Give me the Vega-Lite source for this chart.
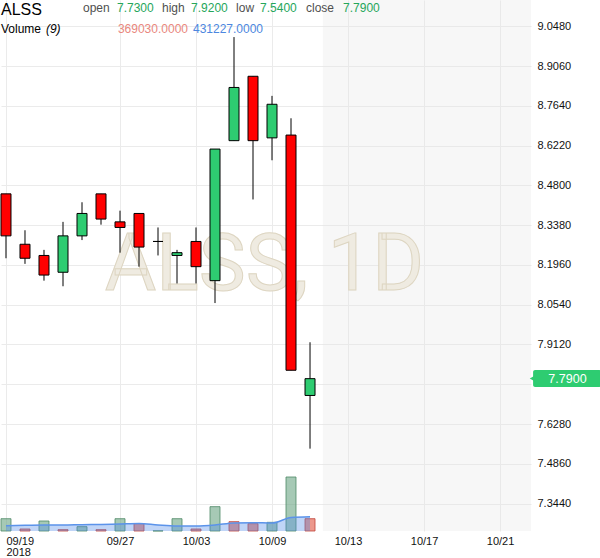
{
  "$schema": "https://vega.github.io/schema/vega-lite/v6.json",
  "width": 530,
  "height": 531,
  "padding": 0,
  "config": {
    "view": {"stroke": null},
    "font": "Liberation Sans"
  },
  "datasets": {
    "ohlc": [
      {"i": 0, "date": "2018-09-19", "open": 8.45, "high": 8.45, "low": 8.22, "close": 8.30, "volume": 369000, "vol_ma": 160000, "vdir": "up"},
      {"i": 1, "date": "2018-09-20", "open": 8.27, "high": 8.32, "low": 8.20, "close": 8.22, "volume": 60000, "vol_ma": 170000, "vdir": "down"},
      {"i": 2, "date": "2018-09-21", "open": 8.23, "high": 8.25, "low": 8.14, "close": 8.16, "volume": 300000, "vol_ma": 180000, "vdir": "up"},
      {"i": 3, "date": "2018-09-24", "open": 8.17, "high": 8.35, "low": 8.12, "close": 8.30, "volume": 40000, "vol_ma": 180000, "vdir": "down"},
      {"i": 4, "date": "2018-09-25", "open": 8.30, "high": 8.42, "low": 8.285, "close": 8.38, "volume": 130000, "vol_ma": 190000, "vdir": "up"},
      {"i": 5, "date": "2018-09-26", "open": 8.45, "high": 8.45, "low": 8.34, "close": 8.36, "volume": 40000, "vol_ma": 195000, "vdir": "down"},
      {"i": 6, "date": "2018-09-27", "open": 8.35, "high": 8.39, "low": 8.24, "close": 8.33, "volume": 369000, "vol_ma": 210000, "vdir": "up"},
      {"i": 7, "date": "2018-09-28", "open": 8.38, "high": 8.38, "low": 8.19, "close": 8.26, "volume": 220000, "vol_ma": 225000, "vdir": "down"},
      {"i": 8, "date": "2018-10-01", "open": 8.28, "high": 8.33, "low": 8.23, "close": 8.28, "volume": 5000, "vol_ma": 180000, "vdir": "up"},
      {"i": 9, "date": "2018-10-02", "open": 8.23, "high": 8.25, "low": 8.13, "close": 8.24, "volume": 369000, "vol_ma": 150000, "vdir": "up"},
      {"i": 10, "date": "2018-10-03", "open": 8.28, "high": 8.33, "low": 8.13, "close": 8.19, "volume": 60000, "vol_ma": 150000, "vdir": "down"},
      {"i": 11, "date": "2018-10-04", "open": 8.14, "high": 8.61, "low": 8.06, "close": 8.61, "volume": 730000, "vol_ma": 180000, "vdir": "up"},
      {"i": 12, "date": "2018-10-05", "open": 8.64, "high": 9.01, "low": 8.64, "close": 8.83, "volume": 280000, "vol_ma": 240000, "vdir": "down"},
      {"i": 13, "date": "2018-10-08", "open": 8.87, "high": 8.87, "low": 8.43, "close": 8.64, "volume": 220000, "vol_ma": 250000, "vdir": "down"},
      {"i": 14, "date": "2018-10-09", "open": 8.65, "high": 8.80, "low": 8.57, "close": 8.77, "volume": 260000, "vol_ma": 240000, "vdir": "up"},
      {"i": 15, "date": "2018-10-10", "open": 8.66, "high": 8.72, "low": 7.82, "close": 7.82, "volume": 1620000, "vol_ma": 405000, "vdir": "up"},
      {"i": 16, "date": "2018-10-11", "open": 7.73, "high": 7.92, "low": 7.54, "close": 7.79, "volume": 369030, "vol_ma": 431227, "vdir": "down"}
    ]
  },
  "data": {"name": "ohlc"},
  "encoding": {
    "x": {
      "field": "i",
      "type": "quantitative",
      "title": null,
      "scale": {"domain": [-0.263, 27.63], "nice": false, "zero": false, "padding": 0},
      "axis": {
        "values": [0, 6, 10, 14, 18, 22, 26],
        "labelExpr": "datum.value == 0 ? ['09/19', '2018'] : datum.value == 6 ? '09/27' : datum.value == 10 ? '10/03' : datum.value == 14 ? '10/09' : datum.value == 18 ? '10/13' : datum.value == 22 ? '10/17' : '10/21'",
        "ticks": false,
        "domain": false,
        "grid": true,
        "gridColor": "#ebebeb",
        "labelFont": "Liberation Sans",
        "labelFontSize": 11,
        "labelColor": "#111111",
        "labelPadding": 4,
        "labelLineHeight": 11,
        "labelFlush": 10,
        "labelOverlap": false,
        "title": null
      }
    }
  },
  "resolve": {"scale": {"y": "independent"}},
  "layer": [
    {
      "layer": [
        {
          "mark": {"type": "bar", "size": 10, "fillOpacity": 0.6, "strokeWidth": 1, "strokeOpacity": 0.8},
          "encoding": {
            "y": {"field": "volume", "type": "quantitative", "title": null, "scale": {"domain": [0, 15930000], "nice": false}, "axis": null},
            "fill": {"field": "vdir", "type": "nominal", "scale": {"domain": ["up", "down"], "range": ["#6ba583", "#e0533f"]}, "legend": null},
            "stroke": {"field": "vdir", "type": "nominal", "scale": {"domain": ["up", "down"], "range": ["#4f8a66", "#c0453a"]}, "legend": null}
          }
        },
        {
          "mark": {"type": "area", "interpolate": "monotone", "color": "#4a86e8", "opacity": 0.35},
          "encoding": {
            "y": {"field": "vol_ma", "type": "quantitative", "title": null, "scale": {"domain": [0, 15930000], "nice": false}, "axis": null}
          }
        },
        {
          "mark": {"type": "line", "interpolate": "monotone", "color": "#5b93ea", "strokeWidth": 1.5},
          "encoding": {
            "y": {"field": "vol_ma", "type": "quantitative", "title": null, "scale": {"domain": [0, 15930000], "nice": false}, "axis": null}
          }
        }
      ]
    },
    {
      "encoding": {
        "y": {
          "field": "open",
          "type": "quantitative",
          "title": null,
          "scale": {"domain": [7.2459, 9.1424], "nice": false, "zero": false},
          "axis": {
            "orient": "right",
            "values": [7.344, 7.486, 7.628, 7.77, 7.912, 8.054, 8.196, 8.338, 8.48, 8.622, 8.764, 8.906, 9.048],
            "format": ".4f",
            "labelExpr": "datum.value == 7.77 ? '' : datum.label",
            "ticks": false,
            "domain": false,
            "grid": true,
            "gridColor": "#ebebeb",
            "labelFont": "Liberation Sans",
            "labelFontSize": 11,
            "labelColor": "#111111",
            "labelPadding": 6,
            "labelOverlap": false,
            "title": null
          }
        }
      },
      "layer": [
        {
          "transform": [{"filter": "datum.i == 16"}],
          "mark": {"type": "rect", "color": "#e6e6e6", "opacity": 0.3},
          "encoding": {
            "x": {"datum": 16.68, "type": "quantitative"},
            "x2": {"datum": 27.63},
            "y": {"datum": 9.1424, "type": "quantitative"},
            "y2": {"datum": 7.2459}
          }
        },
        {
          "transform": [{"filter": "datum.i == 16"}],
          "mark": {"type": "text", "align": "center", "baseline": "alphabetic", "fontSize": 79, "fill": "#efebe1", "stroke": "#ddd5c1", "strokeWidth": 1, "font": "Roboto"},
          "encoding": {
            "x": {"datum": 13.6, "type": "quantitative"},
            "y": {"datum": 8.1066, "type": "quantitative"},
            "text": {"value": "ALSS, 1D"}
          }
        },
        {
          "mark": {"type": "rule", "color": "#000000", "strokeWidth": 1},
          "encoding": {
            "y": {"field": "low", "type": "quantitative", "title": null},
            "y2": {"field": "high"}
          }
        },
        {
          "mark": {"type": "bar", "size": 10, "stroke": "#000000", "strokeWidth": 1},
          "encoding": {
            "y2": {"field": "close"},
            "fill": {
              "condition": {"test": "datum.close >= datum.open", "value": "#2ecc71"},
              "value": "#ff0000"
            }
          }
        },
        {
          "transform": [{"filter": "datum.i == 16"}],
          "mark": {"type": "text", "align": "left", "baseline": "alphabetic", "fontSize": 16, "color": "#000000"},
          "encoding": {
            "x": {"datum": -0.263, "type": "quantitative"},
            "y": {"datum": 9.0888, "type": "quantitative"},
            "text": {"value": "ALSS"}
          }
        },
        {
          "transform": [{"filter": "datum.i == 16"}],
          "mark": {"type": "text", "align": "left", "baseline": "alphabetic", "fontSize": 12, "color": "#4f4f4f"},
          "encoding": {
            "x": {"datum": 4.05, "type": "quantitative"},
            "y": {"datum": 9.1006, "type": "quantitative"},
            "text": {"value": "open"}
          }
        },
        {
          "transform": [{"filter": "datum.i == 16"}],
          "mark": {"type": "text", "align": "left", "baseline": "alphabetic", "fontSize": 12, "color": "#26a65b"},
          "encoding": {
            "x": {"datum": 5.84, "type": "quantitative"},
            "y": {"datum": 9.1006, "type": "quantitative"},
            "text": {"field": "open", "type": "quantitative", "format": ".4f"}
          }
        },
        {
          "transform": [{"filter": "datum.i == 16"}],
          "mark": {"type": "text", "align": "left", "baseline": "alphabetic", "fontSize": 12, "color": "#4f4f4f"},
          "encoding": {
            "x": {"datum": 8.21, "type": "quantitative"},
            "y": {"datum": 9.1006, "type": "quantitative"},
            "text": {"value": "high"}
          }
        },
        {
          "transform": [{"filter": "datum.i == 16"}],
          "mark": {"type": "text", "align": "left", "baseline": "alphabetic", "fontSize": 12, "color": "#26a65b"},
          "encoding": {
            "x": {"datum": 9.74, "type": "quantitative"},
            "y": {"datum": 9.1006, "type": "quantitative"},
            "text": {"field": "high", "type": "quantitative", "format": ".4f"}
          }
        },
        {
          "transform": [{"filter": "datum.i == 16"}],
          "mark": {"type": "text", "align": "left", "baseline": "alphabetic", "fontSize": 12, "color": "#4f4f4f"},
          "encoding": {
            "x": {"datum": 12.11, "type": "quantitative"},
            "y": {"datum": 9.1006, "type": "quantitative"},
            "text": {"value": "low"}
          }
        },
        {
          "transform": [{"filter": "datum.i == 16"}],
          "mark": {"type": "text", "align": "left", "baseline": "alphabetic", "fontSize": 12, "color": "#26a65b"},
          "encoding": {
            "x": {"datum": 13.37, "type": "quantitative"},
            "y": {"datum": 9.1006, "type": "quantitative"},
            "text": {"field": "low", "type": "quantitative", "format": ".4f"}
          }
        },
        {
          "transform": [{"filter": "datum.i == 16"}],
          "mark": {"type": "text", "align": "left", "baseline": "alphabetic", "fontSize": 12, "color": "#4f4f4f"},
          "encoding": {
            "x": {"datum": 15.79, "type": "quantitative"},
            "y": {"datum": 9.1006, "type": "quantitative"},
            "text": {"value": "close"}
          }
        },
        {
          "transform": [{"filter": "datum.i == 16"}],
          "mark": {"type": "text", "align": "left", "baseline": "alphabetic", "fontSize": 12, "color": "#26a65b"},
          "encoding": {
            "x": {"datum": 17.74, "type": "quantitative"},
            "y": {"datum": 9.1006, "type": "quantitative"},
            "text": {"field": "close", "type": "quantitative", "format": ".4f"}
          }
        },
        {
          "transform": [{"filter": "datum.i == 16"}],
          "mark": {"type": "text", "align": "left", "baseline": "alphabetic", "fontSize": 12, "color": "#000000"},
          "encoding": {
            "x": {"datum": -0.263, "type": "quantitative"},
            "y": {"datum": 9.0234, "type": "quantitative"},
            "text": {"value": "Volume"}
          }
        },
        {
          "transform": [{"filter": "datum.i == 16"}],
          "mark": {"type": "text", "align": "left", "baseline": "alphabetic", "fontSize": 12, "fontStyle": "italic", "color": "#000000"},
          "encoding": {
            "x": {"datum": 2.1, "type": "quantitative"},
            "y": {"datum": 9.0234, "type": "quantitative"},
            "text": {"value": "(9)"}
          }
        },
        {
          "transform": [{"filter": "datum.i == 16"}],
          "mark": {"type": "text", "align": "left", "baseline": "alphabetic", "fontSize": 12, "color": "#e9877d"},
          "encoding": {
            "x": {"datum": 5.89, "type": "quantitative"},
            "y": {"datum": 9.0234, "type": "quantitative"},
            "text": {"field": "volume", "type": "quantitative", "format": ".4f"}
          }
        },
        {
          "transform": [{"filter": "datum.i == 16"}],
          "mark": {"type": "text", "align": "left", "baseline": "alphabetic", "fontSize": 12, "color": "#4c87e0"},
          "encoding": {
            "x": {"datum": 9.84, "type": "quantitative"},
            "y": {"datum": 9.0234, "type": "quantitative"},
            "text": {"field": "vol_ma", "type": "quantitative", "format": ".4f"}
          }
        },
        {
          "transform": [{"filter": "datum.i == 16"}],
          "mark": {"type": "rect", "color": "#2ecc71", "cornerRadius": 2},
          "encoding": {
            "x": {"datum": 27.74, "type": "quantitative"},
            "x2": {"datum": 31.32},
            "y": {"datum": 7.8209, "type": "quantitative"},
            "y2": {"datum": 7.7602}
          }
        },
        {
          "transform": [{"filter": "datum.i == 16"}],
          "mark": {"type": "point", "shape": "triangle-left", "filled": true, "size": 30, "color": "#2ecc71", "opacity": 1},
          "encoding": {
            "x": {"datum": 27.69, "type": "quantitative"},
            "y": {"datum": 7.7905, "type": "quantitative"}
          }
        },
        {
          "transform": [{"filter": "datum.i == 16"}],
          "mark": {"type": "text", "align": "center", "baseline": "middle", "fontSize": 12.5, "color": "#ffffff"},
          "encoding": {
            "x": {"datum": 29.55, "type": "quantitative"},
            "y": {"datum": 7.7905, "type": "quantitative"},
            "text": {"field": "close", "type": "quantitative", "format": ".4f"}
          }
        }
      ]
    }
  ]
}
